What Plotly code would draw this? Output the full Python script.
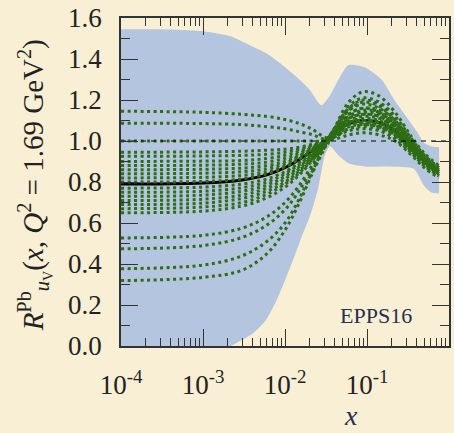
import plotly.graph_objects as go

# ---------------- data ----------------
x_nodes = [1e-4, 1e-3, 3e-3, 6e-3, 1e-2, 1.5e-2, 2.2e-2, 3e-2, 4e-2, 6e-2, 9e-2, 0.14, 0.22, 0.35, 0.5, 0.75]

central = [0.79, 0.795, 0.81, 0.835, 0.87, 0.91, 0.955, 0.995, 1.04, 1.085, 1.10, 1.09, 1.05, 0.97, 0.91, 0.85]

error_sets = [
    [1.145, 1.14, 1.13, 1.12, 1.105, 1.085, 1.055, 1.02, 1.01, 1.03, 1.04, 1.03, 1.00, 0.93, 0.87, 0.82],
    [1.087, 1.085, 1.08, 1.07, 1.06, 1.045, 1.03, 1.01, 1.02, 1.06, 1.08, 1.07, 1.03, 0.95, 0.89, 0.84],
    [1.0, 1.0, 1.0, 1.0, 1.0, 1.0, 1.0, 1.0, 1.03, 1.09, 1.11, 1.10, 1.05, 0.97, 0.90, 0.85],
    [0.945, 0.947, 0.95, 0.955, 0.96, 0.97, 0.985, 1.0, 1.05, 1.13, 1.16, 1.14, 1.08, 0.98, 0.91, 0.85],
    [0.925, 0.927, 0.93, 0.935, 0.945, 0.96, 0.98, 0.995, 1.04, 1.11, 1.13, 1.12, 1.06, 0.97, 0.90, 0.84],
    [0.90, 0.902, 0.905, 0.915, 0.93, 0.95, 0.975, 0.995, 1.06, 1.17, 1.21, 1.19, 1.12, 1.01, 0.93, 0.87],
    [0.88, 0.882, 0.887, 0.897, 0.915, 0.94, 0.97, 0.995, 1.03, 1.09, 1.10, 1.09, 1.04, 0.96, 0.90, 0.84],
    [0.86, 0.862, 0.868, 0.88, 0.90, 0.93, 0.965, 0.995, 1.05, 1.12, 1.14, 1.13, 1.07, 0.98, 0.91, 0.86],
    [0.84, 0.843, 0.85, 0.865, 0.89, 0.925, 0.96, 0.99, 1.04, 1.10, 1.12, 1.11, 1.06, 0.975, 0.905, 0.855],
    [0.82, 0.823, 0.832, 0.85, 0.878, 0.915, 0.955, 0.99, 1.06, 1.15, 1.18, 1.16, 1.10, 1.0, 0.92, 0.86],
    [0.80, 0.803, 0.815, 0.84, 0.873, 0.912, 0.957, 0.995, 1.02, 1.05, 1.06, 1.05, 1.01, 0.94, 0.88, 0.83],
    [0.77, 0.775, 0.79, 0.815, 0.85, 0.895, 0.945, 0.99, 1.04, 1.09, 1.10, 1.09, 1.05, 0.97, 0.90, 0.85],
    [0.75, 0.755, 0.772, 0.80, 0.84, 0.885, 0.94, 0.985, 1.05, 1.13, 1.16, 1.15, 1.09, 0.99, 0.92, 0.86],
    [0.73, 0.736, 0.755, 0.785, 0.827, 0.875, 0.935, 0.985, 1.03, 1.08, 1.09, 1.08, 1.03, 0.96, 0.89, 0.84],
    [0.71, 0.716, 0.737, 0.77, 0.815, 0.865, 0.93, 0.98, 1.045, 1.12, 1.15, 1.14, 1.08, 0.985, 0.91, 0.86],
    [0.69, 0.697, 0.72, 0.755, 0.80, 0.855, 0.92, 0.98, 1.02, 1.06, 1.07, 1.06, 1.02, 0.95, 0.89, 0.83],
    [0.67, 0.678, 0.70, 0.74, 0.79, 0.845, 0.915, 0.975, 1.04, 1.11, 1.13, 1.12, 1.07, 0.98, 0.91, 0.85],
    [0.65, 0.658, 0.683, 0.723, 0.775, 0.835, 0.91, 0.975, 1.06, 1.16, 1.20, 1.18, 1.11, 1.0, 0.93, 0.87],
    [0.527, 0.54, 0.575, 0.63, 0.70, 0.785, 0.89, 0.975, 1.03, 1.08, 1.09, 1.08, 1.04, 0.96, 0.89, 0.84],
    [0.474, 0.49, 0.53, 0.59, 0.665, 0.76, 0.875, 0.97, 1.05, 1.15, 1.19, 1.17, 1.10, 0.99, 0.92, 0.86],
    [0.377, 0.395, 0.44, 0.51, 0.60, 0.72, 0.86, 0.965, 1.02, 1.07, 1.08, 1.07, 1.03, 0.95, 0.89, 0.83],
    [0.319, 0.335, 0.37, 0.45, 0.565, 0.70, 0.85, 0.96, 1.06, 1.19, 1.24, 1.22, 1.14, 1.02, 0.94, 0.88],
]

band_up_x = [1e-4, 3e-4, 1e-3, 2.2e-3, 3.6e-3, 5.8e-3, 1e-2, 1.5e-2, 2e-2, 2.77e-2, 3.5e-2, 4.5e-2,
             5.9e-2, 9.3e-2, 0.15, 0.216, 0.3, 0.4, 0.5, 0.6, 0.757]
band_up = [1.545, 1.545, 1.535, 1.51, 1.47, 1.43, 1.36, 1.30, 1.25, 1.175, 1.22, 1.30,
           1.37, 1.36, 1.30, 1.20, 1.12, 1.05, 0.99, 0.975, 0.97]

band_lo_x = [1e-4, 5e-4, 1e-3, 2.2e-3, 4e-3, 5.8e-3, 7.6e-3, 1e-2, 1.34e-2, 1.55e-2, 2.04e-2, 2.54e-2,
             3.09e-2, 3.54e-2, 4.5e-2, 6e-2, 0.1, 0.2, 0.37, 0.5, 0.6, 0.757]
band_lo = [-0.2, -0.15, -0.1, 0.0, 0.06, 0.125, 0.21, 0.32, 0.45, 0.52, 0.64, 0.77,
           0.935, 0.975, 0.93, 0.89, 0.875, 0.875, 0.865, 0.78, 0.75, 0.745]

ref_x = [1e-4, 1.0]
ref_y = [1.0, 1.0]

x_tickvals = [1e-4, 1e-3, 1e-2, 1e-1, 1.0]
x_ticktext = ["10<sup>-4</sup>", "10<sup>-3</sup>", "10<sup>-2</sup>", "10<sup>-1</sup>", "1"]
x_minor = [m * 10.0 ** e for e in range(-4, 0) for m in range(2, 10)]
y_tickvals = [0.0, 0.2, 0.4, 0.6, 0.8, 1.0, 1.2, 1.4, 1.6]
y_ticktext = ["0.0", "0.2", "0.4", "0.6", "0.8", "1.0", "1.2", "1.4", "1.6"]
y_minor = [0.1, 0.3, 0.5, 0.7, 0.9, 1.1, 1.3, 1.5]

# ---------------- styles ----------------
BG = "#f9efd4"
BAND = "#b4c5df"
GREEN = "#2e6d13"
AXC = "#333333"
SERIF = "Liberation Serif"

fig = go.Figure()

fig.add_trace(go.Scatter(x=band_lo_x, y=band_lo, mode="lines",
                         line=dict(width=0, color=BAND, shape="spline", smoothing=0.7),
                         hoverinfo="skip", showlegend=False))
fig.add_trace(go.Scatter(x=band_up_x, y=band_up, mode="lines", fill="tonexty", fillcolor=BAND,
                         line=dict(width=0, color=BAND, shape="spline", smoothing=0.7),
                         hoverinfo="skip", showlegend=False))

fig.add_trace(go.Scatter(x=x_nodes, y=central, mode="lines",
                         line=dict(color="#000000", width=3, shape="spline"),
                         showlegend=False))

for ys in error_sets:
    fig.add_trace(go.Scatter(x=x_nodes, y=ys, mode="lines",
                             line=dict(color=GREEN, width=3, dash="3px,3.5px", shape="spline"),
                             showlegend=False))

fig.add_trace(go.Scatter(x=ref_x, y=ref_y, mode="lines",
                         line=dict(color="#000000", width=1, dash="5px,5px"),
                         showlegend=False))

tfont = dict(family=SERIF, size=27, color="#222222")

fig.update_layout(
    width=454, height=433,
    margin=dict(l=121, r=3, t=15, b=87),
    paper_bgcolor=BG, plot_bgcolor=BG,
    font=dict(family=SERIF, size=27, color="#222222"),
    showlegend=False,
    xaxis=dict(type="log", range=[-4, 0], showgrid=False, zeroline=False,
               showline=True, linecolor=AXC, linewidth=1.5, mirror="ticks",
               ticks="inside", ticklen=17, tickwidth=1.3, tickcolor=AXC,
               tickmode="array", tickvals=x_tickvals, ticktext=x_ticktext,
               tickfont=tfont, ticklabelstandoff=14,
               minor=dict(tickmode="array", tickvals=x_minor, ticks="inside", ticklen=8,
                          tickwidth=1.1, tickcolor=AXC, showgrid=False)),
    yaxis=dict(range=[0, 1.6], showgrid=False, zeroline=False,
               showline=True, linecolor=AXC, linewidth=1.5, mirror="ticks",
               ticks="inside", ticklen=17, tickwidth=1.3, tickcolor=AXC,
               tickmode="array", tickvals=y_tickvals, ticktext=y_ticktext,
               tickfont=tfont, ticklabelstandoff=12,
               minor=dict(tickmode="array", tickvals=y_minor, ticks="inside", ticklen=9,
                          tickwidth=1.1, tickcolor=AXC, showgrid=False)),
    annotations=[
        dict(text="<i>R</i><sup>Pb</sup><sub><i>u</i><sub>V</sub></sub>(<i>x</i>, <i>Q</i><sup>2</sup> = 1.69 GeV<sup>2</sup>)",
             xref="paper", yref="paper", x=-0.262, y=0.49, xanchor="center", yanchor="middle",
             textangle=-90, showarrow=False,
             font=dict(family=SERIF, size=29, color="#222222")),
        dict(text="<i>x</i>", xref="paper", yref="paper", x=0.702, y=-0.212,
             xanchor="center", yanchor="middle", showarrow=False,
             font=dict(family=SERIF, size=28, color="#26304f")),
        dict(text="EPPS16", xref="paper", yref="paper", x=0.778, y=0.094,
             xanchor="center", yanchor="middle", showarrow=False,
             font=dict(family=SERIF, size=22, color="#26304f")),
    ],
)

fig.write_html("out.html")
